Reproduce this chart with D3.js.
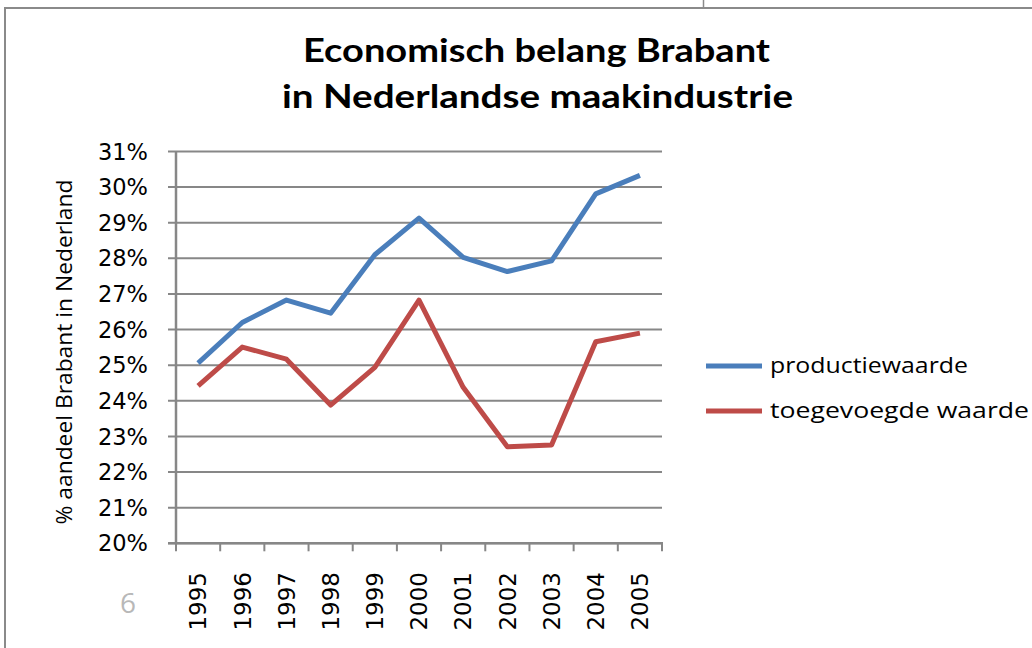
<!DOCTYPE html>
<html><head><meta charset="utf-8">
<script src="https://cdn.jsdelivr.net/npm/d3@7"></script>
<style>body{margin:0;background:#fff}svg{display:block}</style>
</head><body>
<svg id="c" width="1032" height="648"></svg>
<script>
const years = ["1995","1996","1997","1998","1999","2000","2001","2002","2003","2004","2005"];
const productiewaarde = [25.06,26.20,26.83,26.46,28.10,29.13,28.03,27.63,27.93,29.81,30.33];
const toegevoegdeWaarde = [24.42,25.51,25.17,23.88,24.94,26.83,24.38,22.71,22.76,25.66,25.90];
const yTicks = [20,21,22,23,24,25,26,27,28,29,30,31];
const seriesNames = ["productiewaarde","toegevoegde waarde"];
const seriesColors = ["#4a7ebb","#be4b48"];
const titleLines = ["Economisch belang Brabant","in Nederlandse maakindustrie"];
const yTitle = "% aandeel Brabant in Nederland";
const pageNumber = "6";

const svg = d3.select("#c");
const gray = "#878787";

// frame (slide border)
svg.append("line").attr("x1",5).attr("x2",5).attr("y1",7).attr("y2",648).attr("stroke","#8a8a8a").attr("stroke-width",2);
svg.append("line").attr("x1",4).attr("x2",1032).attr("y1",8).attr("y2",8).attr("stroke","#8a8a8a").attr("stroke-width",2);
svg.append("line").attr("x1",703.5).attr("x2",703.5).attr("y1",0).attr("y2",8).attr("stroke","#8a8a8a").attr("stroke-width",1.5);

const x = d3.scaleBand().domain(years).range([176,662]);
const y = d3.scaleLinear().domain([20,31]).range([543.3,151.5]);

// gridlines
svg.append("g").selectAll("line").data(yTicks).join("line")
  .attr("x1",168).attr("x2",662).attr("y1",d=>y(d)).attr("y2",d=>y(d))
  .attr("stroke",gray).attr("stroke-width",2);

// y axis line
svg.append("line").attr("x1",176).attr("x2",176).attr("y1",y(31)).attr("y2",y(20)+1).attr("stroke",gray).attr("stroke-width",2.5);
// x axis line
svg.append("line").attr("x1",168).attr("x2",663).attr("y1",y(20)).attr("y2",y(20)).attr("stroke",gray).attr("stroke-width",2.5);
// x ticks at band boundaries
const bounds = years.map(d=>x(d)).concat([x(years[years.length-1])+x.bandwidth()]);
svg.append("g").selectAll("line").data(bounds).join("line")
  .attr("x1",d=>d).attr("x2",d=>d).attr("y1",y(20)).attr("y2",y(20)+8)
  .attr("stroke",gray).attr("stroke-width",2);

// y tick labels
svg.append("g").selectAll("text").data(yTicks).join("text")
  .attr("x",148).attr("y",d=>y(d)).attr("dy","0.36em").attr("text-anchor","end")
  .attr("font-family","DejaVu Sans").attr("font-size",22.5).attr("fill","#000")
  .text(d=>d+"%");

// x tick labels rotated
svg.append("g").selectAll("text").data(years).join("text")
  .attr("transform",d=>`translate(${x(d)+x.bandwidth()/2},572) rotate(-90)`)
  .attr("text-anchor","end").attr("dy","0.36em")
  .attr("font-family","DejaVu Sans").attr("font-size",23).attr("fill","#000")
  .text(d=>d);

// lines
const line = d3.line().x((d,i)=>x(years[i])+x.bandwidth()/2).y(d=>y(d));
[productiewaarde,toegevoegdeWaarde].forEach((s,i)=>{
  svg.append("path").datum(s).attr("d",line).attr("fill","none")
    .attr("stroke",seriesColors[i]).attr("stroke-width",5).attr("stroke-linejoin","round");
});

// title
const tw = [467,511];
svg.append("g").selectAll("text").data(titleLines).join("text")
  .attr("x",(d,i)=>i===0?303:282).attr("y",(d,i)=>62+i*45.5)
  .attr("font-family","Lato").attr("font-weight","bold").attr("font-size",32)
  .attr("textLength",(d,i)=>tw[i]).attr("lengthAdjust","spacingAndGlyphs")
  .attr("fill","#000").text(d=>d);

// y title
svg.append("text").attr("transform","translate(72,352) rotate(-90)")
  .attr("text-anchor","middle").attr("font-family","Open Sans").attr("font-size",22)
  .attr("textLength",345).attr("lengthAdjust","spacingAndGlyphs")
  .attr("fill","#000").text(yTitle);

// legend
const legY = [366,411];
const lg = svg.append("g");
seriesNames.forEach((n,i)=>{
  lg.append("line").attr("x1",706).attr("x2",762).attr("y1",legY[i]).attr("y2",legY[i])
    .attr("stroke",seriesColors[i]).attr("stroke-width",5);
  lg.append("text").attr("x",770).attr("y",legY[i]).attr("dy","0.33em")
    .attr("font-family","Open Sans").attr("font-size",21.5).attr("fill","#000")
    .attr("textLength",i===0?198:259).attr("lengthAdjust","spacingAndGlyphs")
    .text(n);
});

// page number
svg.append("text").attr("x",128).attr("y",603).attr("dy","0.35em").attr("text-anchor","middle")
  .attr("font-family","Open Sans").attr("font-size",28).attr("fill","#b8b8b8").text(pageNumber);
</script>
</body></html>
